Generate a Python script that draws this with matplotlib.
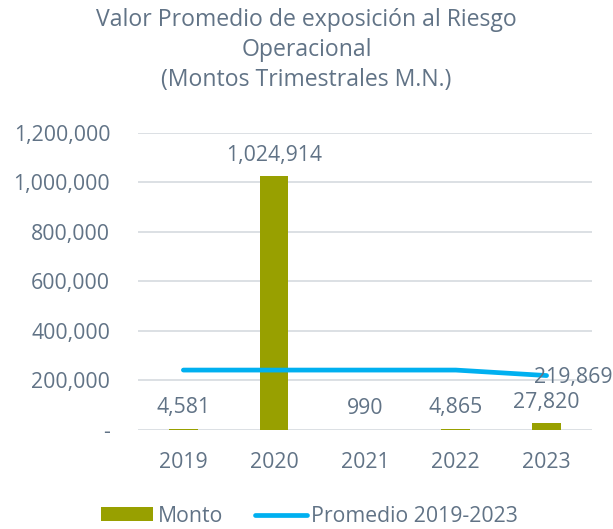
import matplotlib
matplotlib.use("Agg")
import matplotlib.pyplot as plt
from matplotlib.ticker import FuncFormatter, MultipleLocator
from matplotlib.patches import Patch
from matplotlib.lines import Line2D

years = ['2019', '2020', '2021', '2022', '2023']
monto = [4581, 1024914, 990, 4865, 27820]
promedio = [242000, 242000, 242000, 242000, 219869]
monto_labels = ['4,581', '1,024,914', '990', '4,865', '27,820']
promedio_label = '219,869'

TXT = '#617386'
BAR = '#98a000'
LINE = '#00b0f0'
GRID = '#d9dde2'
FONT = 'Open Sans'
FS = 15.3
TFS = 16.6

plt.rcParams['font.family'] = [FONT, 'DejaVu Sans']

fig = plt.figure(figsize=(6.13, 5.29), dpi=100)
ax = fig.add_axes([0.2251, 0.1871, 0.7406, 0.562])

x = list(range(len(years)))
ax.bar(x, monto, width=0.315, color=BAR, zorder=2)
ax.plot(x, promedio, color=LINE, lw=3.4, solid_capstyle='round', zorder=3)

ax.set_xlim(-0.5, len(years) - 0.5)
ax.set_ylim(0, 1200000)
ax.yaxis.set_major_locator(MultipleLocator(200000))
ax.yaxis.set_major_formatter(FuncFormatter(lambda v, p: '-' if v == 0 else f'{int(v):,}'))
ax.set_xticks(x)
ax.set_xticklabels(years)
ax.tick_params(axis='both', length=0, labelsize=FS, labelcolor=TXT)
ax.tick_params(axis='y', pad=20)
ax.tick_params(axis='x', pad=16)
for s in ax.spines.values():
    s.set_visible(False)
ax.grid(axis='y', color=GRID, lw=1.3, zorder=0)
ax.set_axisbelow(True)

for xi, v, lab in zip(x, monto, monto_labels):
    ax.annotate(lab, (xi, v), xytext=(0, 7.5), textcoords='offset points',
                ha='center', va='bottom', fontsize=FS, color=TXT, zorder=4)

ax.annotate(promedio_label, (x[-1], promedio[-1]), xytext=(-9, -1.5), textcoords='offset points',
            ha='left', va='center', fontsize=FS, color=TXT, zorder=4, annotation_clip=False)

fig.text(0.5, 0.984, 'Valor Promedio de exposición al Riesgo\nOperacional\n(Montos Trimestrales M.N.)',
         ha='center', va='top', fontsize=TFS, color=TXT, linespacing=1.31)

handles = [Patch(facecolor=BAR, edgecolor='none'),
           Line2D([0], [0], color=LINE, lw=3.4, solid_capstyle='round')]
fig.legend(handles, ['Monto', 'Promedio 2019-2023'], loc='center', bbox_to_anchor=(0.505, 0.024),
           ncol=2, frameon=False, fontsize=FS, labelcolor=TXT, handlelength=2.45,
           handleheight=0.65, handletextpad=0.2, columnspacing=1.5)

fig.savefig('out.png', dpi=100)
